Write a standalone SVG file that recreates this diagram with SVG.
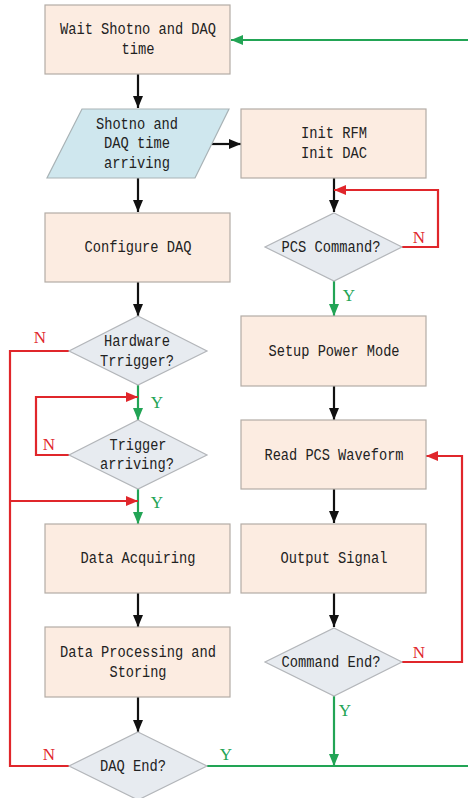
<svg xmlns="http://www.w3.org/2000/svg" width="468" height="798" viewBox="0 0 468 798">
<style>
.box{fill:#fcece1;stroke:#b3aca6;stroke-width:1.2}
.io{fill:#cfe7ee;stroke:#a9b3b6;stroke-width:1.2}
.dec{fill:#e7ebf0;stroke:#b3b6ba;stroke-width:1.2}
.t{font-family:"Liberation Mono","DejaVu Sans Mono",monospace;font-size:16px;fill:#222;text-anchor:middle}
.lbl{font-family:"Liberation Serif","DejaVu Serif",serif;font-size:17px;text-anchor:middle}
.k{stroke:#111;stroke-width:2.2;fill:none}
.g{stroke:#22a455;stroke-width:2.2;fill:none}
.r{stroke:#e0262b;stroke-width:2.2;fill:none}
</style>
<defs>
<marker id="ak" markerUnits="userSpaceOnUse" markerWidth="12" markerHeight="12" viewBox="0 0 12 12" refX="12" refY="6" orient="auto"><path d="M0,1 L12,6 L0,11 Z" fill="#111"/></marker>
<marker id="ag" markerUnits="userSpaceOnUse" markerWidth="12" markerHeight="12" viewBox="0 0 12 12" refX="12" refY="6" orient="auto"><path d="M0,1 L12,6 L0,11 Z" fill="#22a455"/></marker>
<marker id="ar" markerUnits="userSpaceOnUse" markerWidth="12" markerHeight="12" viewBox="0 0 12 12" refX="12" refY="6" orient="auto"><path d="M0,1 L12,6 L0,11 Z" fill="#e0262b"/></marker>
</defs>
<rect width="468" height="798" fill="#fff"/>

<g id="connectors">
<path class="k" d="M138,74 V108" marker-end="url(#ak)"/>
<path class="k" d="M138,178 V212" marker-end="url(#ak)"/>
<path class="k" d="M138,282 V316" marker-end="url(#ak)"/>
<path class="k" d="M212,144 H241" marker-end="url(#ak)"/>
<path class="k" d="M334,178 V212" marker-end="url(#ak)"/>
<path class="k" d="M334,386 V420" marker-end="url(#ak)"/>
<path class="k" d="M334,489 V523" marker-end="url(#ak)"/>
<path class="k" d="M334,593 V627" marker-end="url(#ak)"/>
<path class="k" d="M138,593 V627" marker-end="url(#ak)"/>
<path class="k" d="M138,697 V732" marker-end="url(#ak)"/>
<path class="g" d="M138,385 V420" marker-end="url(#ag)"/>
<path class="g" d="M138,489 V524" marker-end="url(#ag)"/>
<path class="g" d="M334,281 V316" marker-end="url(#ag)"/>
<path class="g" d="M334,696 V766" marker-end="url(#ag)"/>
<path class="g" d="M207,766 H468"/>
<path class="g" d="M468,40 H231" marker-end="url(#ag)"/>
<path class="r" d="M402,247 H438 V190 H334" marker-end="url(#ar)"/>
<path class="r" d="M69,351 H10 V766 H69"/>
<path class="r" d="M10,501 H138" marker-end="url(#ar)"/>
<path class="r" d="M69,455 H36 V397 H138" marker-end="url(#ar)"/>
<path class="r" d="M402,662 H462 V456 H426" marker-end="url(#ar)"/>
<g fill="#e0262b">
<text class="lbl" x="40" y="343">N</text>
<text class="lbl" x="419" y="243">N</text>
<text class="lbl" x="49" y="450">N</text>
<text class="lbl" x="419" y="658">N</text>
<text class="lbl" x="49" y="760">N</text>
</g>
<g fill="#22a455">
<text class="lbl" x="349" y="301">Y</text>
<text class="lbl" x="157" y="408">Y</text>
<text class="lbl" x="157" y="508">Y</text>
<text class="lbl" x="345" y="716">Y</text>
<text class="lbl" x="226" y="760">Y</text>
</g>
</g>

<g id="wait">
<rect class="box" x="45" y="5" width="185" height="69"/>
<text class="t" x="138" y="34" textLength="156" lengthAdjust="spacingAndGlyphs">Wait Shotno and DAQ</text>
<text class="t" x="138" y="54" textLength="33" lengthAdjust="spacingAndGlyphs">time</text>
</g>
<g id="arriving">
<polygon class="io" points="82,109 229,109 195,178 47,178"/>
<text class="t" x="137" y="129" textLength="82" lengthAdjust="spacingAndGlyphs">Shotno and</text>
<text class="t" x="137" y="148" textLength="66" lengthAdjust="spacingAndGlyphs">DAQ time</text>
<text class="t" x="137" y="168" textLength="66" lengthAdjust="spacingAndGlyphs">arriving</text>
</g>
<g id="init">
<rect class="box" x="241" y="109" width="185" height="69"/>
<text class="t" x="334" y="138" textLength="66" lengthAdjust="spacingAndGlyphs">Init RFM</text>
<text class="t" x="334" y="158" textLength="66" lengthAdjust="spacingAndGlyphs">Init DAC</text>
</g>
<g id="configure">
<rect class="box" x="45" y="213" width="185" height="69"/>
<text class="t" x="138" y="252" textLength="107" lengthAdjust="spacingAndGlyphs">Configure DAQ</text>
</g>
<g id="pcs-command">
<polygon class="dec" points="334,213 402,247 334,281 265,247"/>
<text class="t" x="331" y="252" textLength="99" lengthAdjust="spacingAndGlyphs">PCS Command?</text>
</g>
<g id="hw-trigger">
<polygon class="dec" points="138,316 207,351 138,385 69,351"/>
<text class="t" x="137" y="346" textLength="66" lengthAdjust="spacingAndGlyphs">Hardware</text>
<text class="t" x="137" y="366" textLength="74" lengthAdjust="spacingAndGlyphs">Trrigger?</text>
</g>
<g id="setup">
<rect class="box" x="241" y="316" width="185" height="70"/>
<text class="t" x="334" y="356" textLength="131" lengthAdjust="spacingAndGlyphs">Setup Power Mode</text>
</g>
<g id="trigger-arriving">
<polygon class="dec" points="138,420 207,455 138,489 69,455"/>
<text class="t" x="138" y="450" textLength="57" lengthAdjust="spacingAndGlyphs">Trigger</text>
<text class="t" x="137" y="469" textLength="74" lengthAdjust="spacingAndGlyphs">arriving?</text>
</g>
<g id="read-waveform">
<rect class="box" x="241" y="420" width="185" height="69"/>
<text class="t" x="334" y="460" textLength="139" lengthAdjust="spacingAndGlyphs">Read PCS Waveform</text>
</g>
<g id="data-acquiring">
<rect class="box" x="45" y="524" width="185" height="69"/>
<text class="t" x="138" y="563" textLength="115" lengthAdjust="spacingAndGlyphs">Data Acquiring</text>
</g>
<g id="output-signal">
<rect class="box" x="241" y="524" width="185" height="69"/>
<text class="t" x="334" y="563" textLength="107" lengthAdjust="spacingAndGlyphs">Output Signal</text>
</g>
<g id="processing">
<rect class="box" x="45" y="627" width="185" height="70"/>
<text class="t" x="138" y="657" textLength="156" lengthAdjust="spacingAndGlyphs">Data Processing and</text>
<text class="t" x="138" y="677" textLength="57" lengthAdjust="spacingAndGlyphs">Storing</text>
</g>
<g id="command-end">
<polygon class="dec" points="334,628 402,662 334,696 265,662"/>
<text class="t" x="331" y="667" textLength="99" lengthAdjust="spacingAndGlyphs">Command End?</text>
</g>
<g id="daq-end">
<polygon class="dec" points="138,732 207,766 138,800 69,766"/>
<text class="t" x="133" y="771" textLength="66" lengthAdjust="spacingAndGlyphs">DAQ End?</text>
</g>
</svg>
